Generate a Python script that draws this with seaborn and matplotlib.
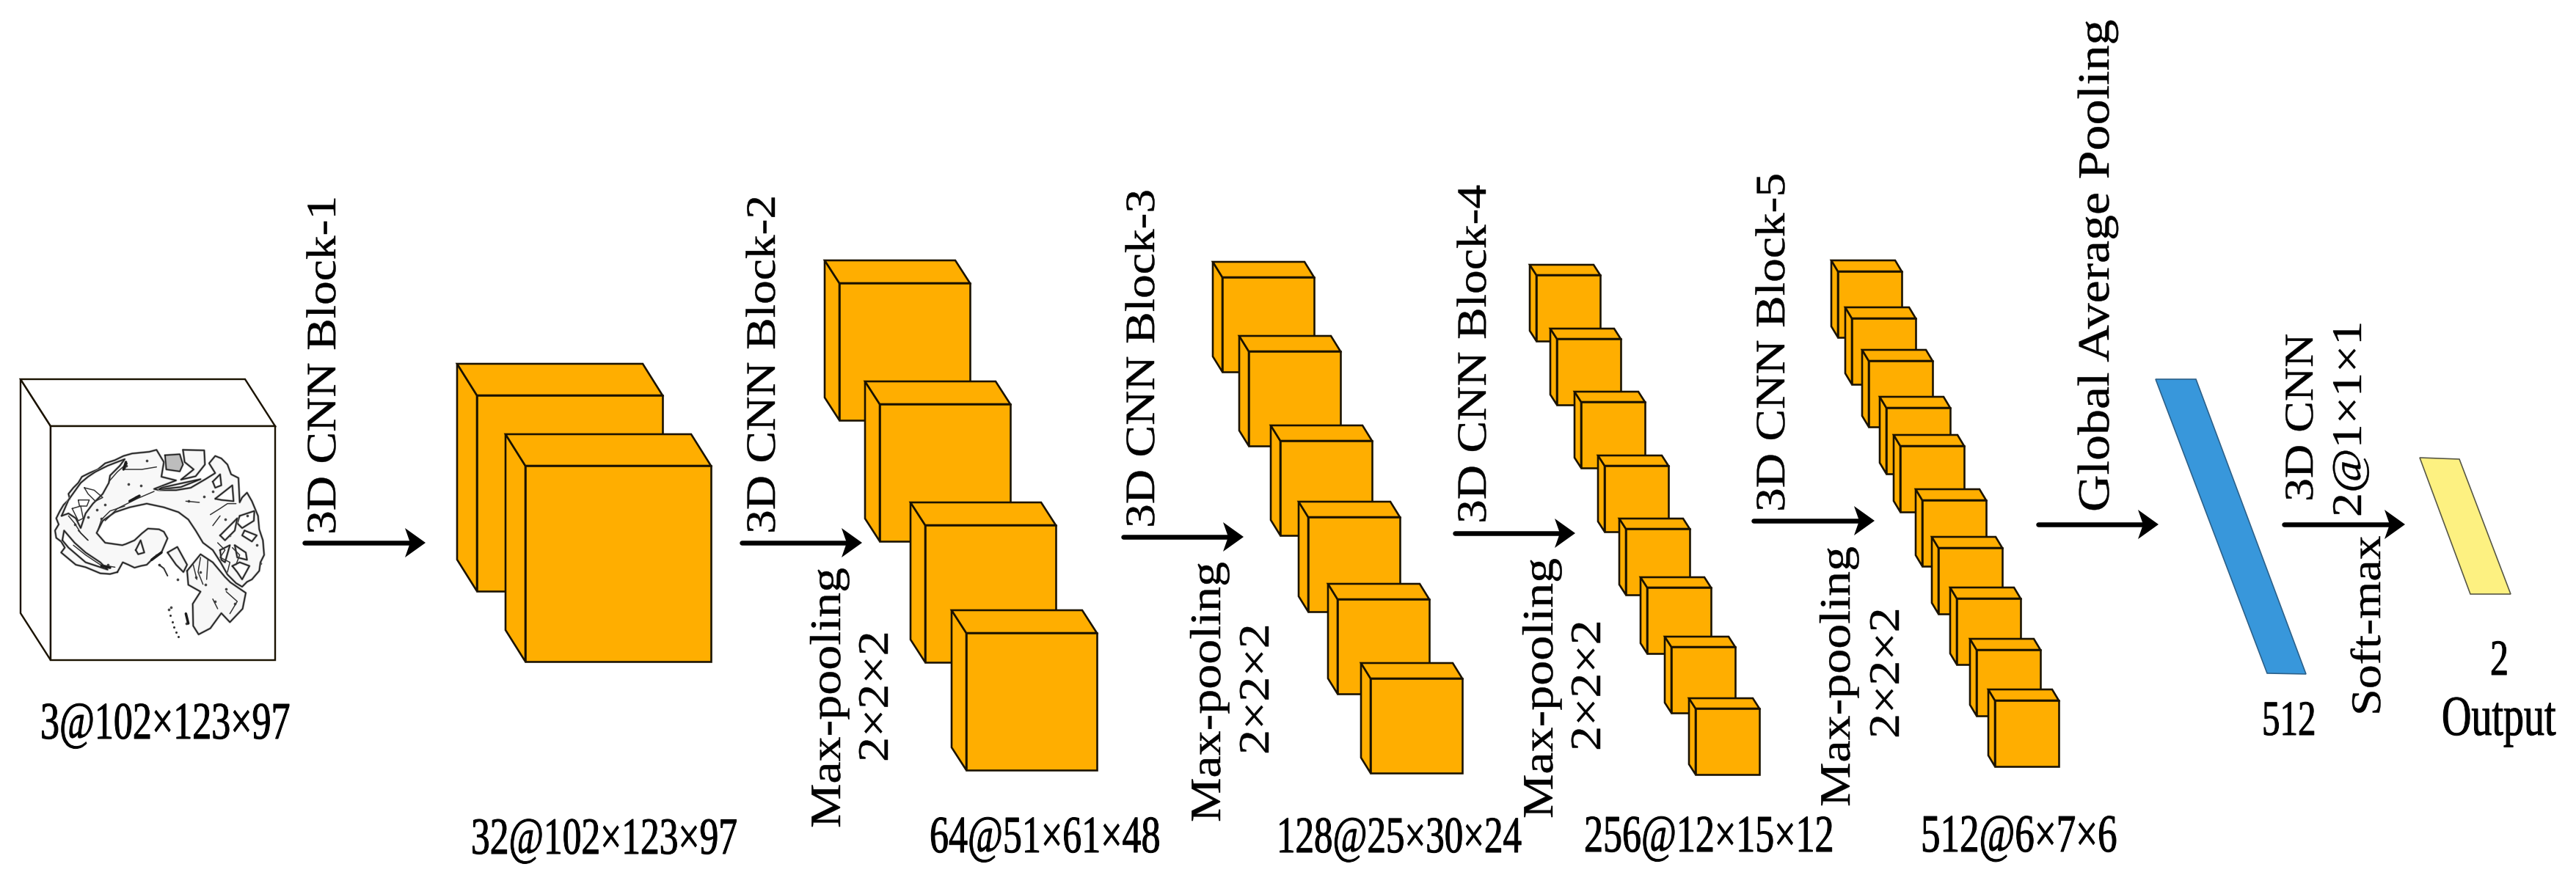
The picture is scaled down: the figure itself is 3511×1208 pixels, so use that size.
import matplotlib
matplotlib.use('Agg')
import matplotlib.pyplot as plt
import matplotlib.patheffects as pe
from matplotlib.transforms import Affine2D
import numpy as np
import seaborn as sns

sns.set_theme(style="white")
plt.rcParams['font.family'] = ['Liberation Serif', 'DejaVu Serif']

ORANGE = '#FFAE00'
EDGE = '#1a1200'

# feature map blocks, front face of every box
block_x = [[650, 716],
           [1144, 1199, 1261, 1317],
           [1666, 1702, 1745, 1783, 1823, 1868],
           [2094, 2122, 2155, 2187, 2216, 2245, 2278, 2311],
           [2505, 2524, 2547, 2571, 2590, 2620, 2642, 2667, 2694, 2719]]
block_y = [[539, 635],
           [386, 551, 716, 863],
           [378, 479, 601, 705, 817, 925],
           [375, 462, 548, 635, 721, 801, 882, 966],
           [370, 434, 492, 556, 608, 682, 747, 816, 886, 955]]
block_w = [253, 178, 125, 87, 87]
block_h = [267, 187, 129, 90, 90]
block_dx = [27, 20, 13, 9, 9]
block_dy = [43, 31, 21, 14, 15]

# input volume
input_x, input_y, input_w, input_h, input_dx, input_dy = 69, 581, 306, 319, 41, 64

# flat layers
dense_x = [2938, 2993, 3143, 3090]
dense_y = [517, 517, 919, 918]
output_x = [3298, 3352, 3422, 3367]
output_y = [624, 626, 810, 810]

# arrows
arrow_start = [415, 1011, 1531, 1983, 2390, 2778, 3113]
arrow_tip = [580, 1175, 1695, 2147, 2555, 2942, 3278]
arrow_y = [740, 740, 732, 727, 710, 715, 715]

# horizontal labels: text, x, baseline y, font px
flat_labels = ['3@102×123×97', '32@102×123×97', '64@51×61×48', '128@25×30×24',
               '256@12×15×12', '512@6×7×6', '512', '2', 'Output']
flat_x = [55, 642, 1267, 1740, 2159, 2618, 3083, 3394, 3328]
flat_y = [1007, 1164, 1162, 1162, 1161, 1161, 1002, 920, 1002]
flat_px = [52, 51.5, 52, 51, 52, 53, 49, 50, 56]

# rotated labels: text, baseline x, bottom y, font px
side_labels = ['3D CNN Block-1', '3D CNN Block-2', '3D CNN Block-3', '3D CNN Block-4', '3D CNN Block-5',
               'Max-pooling', 'Max-pooling', 'Max-pooling', 'Max-pooling',
               '2×2×2', '2×2×2', '2×2×2', '2×2×2',
               'Global Average Pooling', '3D CNN', '2@1×1×1', 'Soft-max']
side_x = [457, 1056, 1573, 2025, 2432, 1145, 1663, 2116, 2521, 1210, 1729, 2181, 2588, 2874, 3152, 3218, 3244]
side_y = [729, 728, 720, 714, 698, 1129, 1121, 1116, 1100, 1039, 1029, 1024, 1007, 698, 684, 705, 976]
side_px = [65.5, 65.5, 65.5, 65.5, 65.5, 68, 68, 68, 68, 68, 68, 68, 68, 70, 64, 66, 66]

# brain slice, traced on a 3x crop of the input face
brain_body = [(300, 570), (322, 530), (345, 540), (370, 552), (395, 545), (420, 540), (450, 510), (480, 490),
              (505, 432), (490, 405), (470, 395), (425, 392), (400, 412), (370, 440), (335, 455), (320, 460),
              (250, 450), (215, 410), (240, 360), (290, 325), (350, 305), (420, 290), (490, 305), (550, 325),
              (590, 355), (620, 400), (650, 450), (690, 480), (722, 530), (750, 580), (785, 615), (810, 630),
              (830, 610), (850, 600), (880, 565), (885, 530), (900, 500), (895, 440), (880, 395), (875, 340),
              (850, 280), (830, 245), (810, 265), (800, 285), (795, 185), (765, 170), (750, 130), (725, 105),
              (700, 95), (675, 125), (700, 165), (660, 190), (600, 225), (540, 235), (470, 235), (450, 230),
              (540, 195), (480, 180), (490, 120), (460, 70), (430, 78), (360, 85), (325, 95), (290, 112),
              (250, 125), (220, 150), (185, 165), (155, 180), (140, 205), (120, 225), (100, 250), (105, 270),
              (80, 295), (65, 320), (50, 350), (60, 375), (45, 400), (50, 430), (70, 445), (85, 470), (70, 490),
              (100, 515), (130, 540), (170, 550), (230, 575), (270, 578)]
brain_holes = [
    [(72, 340), (100, 275), (125, 240), (150, 205), (180, 180), (210, 160), (260, 135), (330, 108), (310, 135),
     (270, 175), (265, 205), (240, 250), (200, 290), (170, 330), (150, 390), (130, 350), (100, 330)],
    [(75, 440), (100, 470), (170, 530), (260, 560), (230, 530), (170, 490), (125, 450), (82, 400)],
    [(375, 480), (395, 440), (410, 490), (385, 497)],
    [(800, 340), (860, 320), (858, 360), (810, 390), (790, 370)],
    [(820, 400), (870, 420), (850, 445), (810, 420)],
    [(770, 545), (800, 530), (840, 545), (810, 600), (790, 570)],
    [(690, 200), (720, 170), (725, 215), (700, 225)],
    [(700, 270), (770, 215), (775, 280), (725, 275)],
    [(720, 420), (790, 350), (780, 400), (740, 440)],
    [(720, 480), (760, 460), (740, 530), (725, 520)],
    [(780, 460), (825, 490), (830, 520), (790, 510)],
    [(470, 232), (560, 222), (640, 190), (570, 205), (480, 225)],
]
brain_islands = [
    [(495, 92), (555, 88), (568, 130), (555, 158), (500, 150)],
    [(568, 70), (655, 72), (658, 130), (620, 178), (560, 192), (612, 150), (575, 120)],
    [(585, 565), (640, 497), (690, 530), (740, 590), (762, 612), (825, 655), (812, 720), (760, 775), (725, 738),
     (680, 800), (632, 825), (610, 790), (608, 700), (640, 650), (590, 622)],
    [(505, 490), (545, 467), (585, 540), (570, 570), (540, 540)],
]
brain_folds = [
    [(100, 340), (125, 370), (150, 410), (180, 440), (140, 400)],
    [(120, 460), (170, 500), (230, 540), (290, 550)],
    [(165, 225), (205, 235), (240, 265), (210, 280), (180, 250), (165, 225)],
    [(140, 275), (185, 275), (175, 300), (145, 300), (140, 275)],
    [(115, 310), (150, 300), (160, 350), (140, 360), (115, 310)],
    [(680, 335), (720, 310), (750, 290), (785, 290)],
    [(690, 380), (720, 340)],
    [(250, 360), (300, 310), (380, 270), (450, 240)],
    [(220, 400), (235, 355), (270, 320), (330, 300)],
    [(265, 200), (300, 160), (340, 125), (330, 150), (400, 150), (460, 140)],
    [(710, 450), (740, 480), (720, 510), (760, 530), (750, 570)],
    [(770, 470), (800, 500), (785, 540)],
    [(640, 510), (630, 570), (650, 620)],
    [(610, 540), (625, 600)],
    [(670, 520), (665, 600)],
    [(690, 680), (710, 720)],
    [(745, 650), (790, 690), (760, 740)],
    [(580, 280), (635, 285)],
]
brain_dark = [
    [(235, 545), (270, 552)],
    [(350, 280), (390, 258)],
    [(440, 520), (480, 490)],
    [(335, 120), (325, 150)],
    [(580, 740), (590, 780)],
]
fleck_x = [335, 420, 395, 345, 375, 250, 180, 215, 125, 590, 655, 690, 740, 760, 830, 870, 885, 640, 520, 255, 260,
           235, 460, 510, 545, 582, 470, 620, 660, 700, 745, 780]
fleck_y = [135, 115, 215, 210, 265, 295, 345, 315, 375, 280, 260, 240, 355, 420, 340, 460, 535, 570, 715, 548, 540,
           350, 500, 722, 600, 780, 540, 590, 620, 690, 640, 700]
stem_x = [470, 490, 505]
stem_y = [540, 555, 585]
dots_x = [515, 525, 532, 540, 548]
dots_y = [748, 775, 795, 815, 835]


class SquashText(pe.AbstractPathEffect):
    # the reference was resized unevenly, so glyphs are rescaled across the baseline
    def __init__(self, factor, weight=0.9):
        super().__init__()
        self.factor = factor
        self.weight = weight

    def draw_path(self, renderer, gc, tpath, affine, rgbFace=None):
        gc0 = renderer.new_gc()
        gc0.copy_properties(gc)
        gc0.set_foreground('black')
        gc0.set_linewidth(self.weight)
        renderer.draw_path(gc0, tpath, Affine2D().scale(1, self.factor) + affine, rgbFace)
        gc0.restore()


def px(v):
    # pixels to points at dpi 100
    return v * 0.72


def draw_line(ax, xs, ys, color='black', width=3, ls='-'):
    sns.lineplot(x=xs, y=ys, ax=ax, color=color, linewidth=px(width), linestyle=ls,
                 estimator=None, sort=False, legend=False)


def draw_box(ax, x, y, w, h, dx, dy, color=ORANGE, lw=2.6):
    top = [(x - dx, y - dy), (x + w - dx, y - dy), (x + w, y), (x, y)]
    side = [(x - dx, y - dy), (x, y), (x, y + h), (x - dx, y + h - dy)]
    front = [(x, y), (x + w, y), (x + w, y + h), (x, y + h)]
    for face in (side, top, front):
        xs, ys = zip(*face)
        ax.fill(xs, ys, facecolor=color, edgecolor=EDGE, linewidth=px(lw), joinstyle='miter')


def brain_xy(points, closed=True):
    arr = np.array(points + points[:1] if closed else points, dtype=float)
    return 60 + arr[:, 0] / 3, 590 + arr[:, 1] / 3


def draw_outline(ax, points, fill):
    xs, ys = brain_xy(points)
    ax.fill(xs, ys, facecolor=fill, edgecolor='none')
    draw_line(ax, xs, ys, color='#9a9a9a', width=3)
    draw_line(ax, xs, ys, color='#1c1c1c', width=1.5)


fig, ax = plt.subplots(figsize=(35.12, 12.08), dpi=100)
fig.subplots_adjust(0, 0, 1, 1)

# input volume
draw_box(ax, input_x, input_y, input_w, input_h, input_dx, input_dy, color='white', lw=2.4)

draw_outline(ax, brain_body, '#f8f8f8')
for hole in brain_holes:
    draw_outline(ax, hole, 'white')
for i, island in enumerate(brain_islands):
    draw_outline(ax, island, '#bdbdbd' if i == 0 else '#f7f7f7')
for fold in brain_folds:
    xs, ys = brain_xy(fold, closed=False)
    draw_line(ax, xs, ys, color='#333333', width=1.5)
for mark in brain_dark:
    xs, ys = brain_xy(mark, closed=False)
    draw_line(ax, xs, ys, color='#1c1c1c', width=3.5)
sns.scatterplot(x=60 + np.array(fleck_x) / 3, y=590 + np.array(fleck_y) / 3, ax=ax, color='#444444',
                s=7, linewidth=0, legend=False)
draw_line(ax, 60 + np.array(stem_x) / 3, 590 + np.array(stem_y) / 3, color='#333333', width=2)
sns.scatterplot(x=60 + np.array(dots_x) / 3, y=590 + np.array(dots_y) / 3, ax=ax, color='#333333',
                s=5, linewidth=0, legend=False)

# orange feature maps
for i in range(len(block_x)):
    for x, y in zip(block_x[i], block_y[i]):
        draw_box(ax, x, y, block_w[i], block_h[i], block_dx[i], block_dy[i])

# flat layers
ax.fill(dense_x, dense_y, facecolor='#3897DB', edgecolor='#2b5f88', linewidth=px(1.6))
ax.fill(output_x, output_y, facecolor='#FDF181', edgecolor='#555544', linewidth=px(1.6))

# arrows
for start, tip, y in zip(arrow_start, arrow_tip, arrow_y):
    draw_line(ax, [start, tip - 20], [y, y], color='black', width=6.5)
    ax.fill([tip, tip - 28, tip - 21, tip - 28], [y, y - 20, y, y + 20], color='black', linewidth=0)

# labels
for label, x, y, size in zip(flat_labels, flat_x, flat_y, flat_px):
    ax.text(x, y, label, fontsize=px(size), color='black', ha='left', va='baseline',
            path_effects=[SquashText(1.38, weight=0.7)])
for label, x, y, size in zip(side_labels, side_x, side_y, side_px):
    ax.text(x, y, label, fontsize=px(size), color='black', rotation=90, rotation_mode='anchor',
            ha='left', va='baseline', path_effects=[SquashText(0.87, weight=0.3)])

ax.set_xlim(0, 3512)
ax.set_ylim(1208, 0)
ax.axis('off')

plt.savefig('out.png', dpi=100, facecolor='white')
